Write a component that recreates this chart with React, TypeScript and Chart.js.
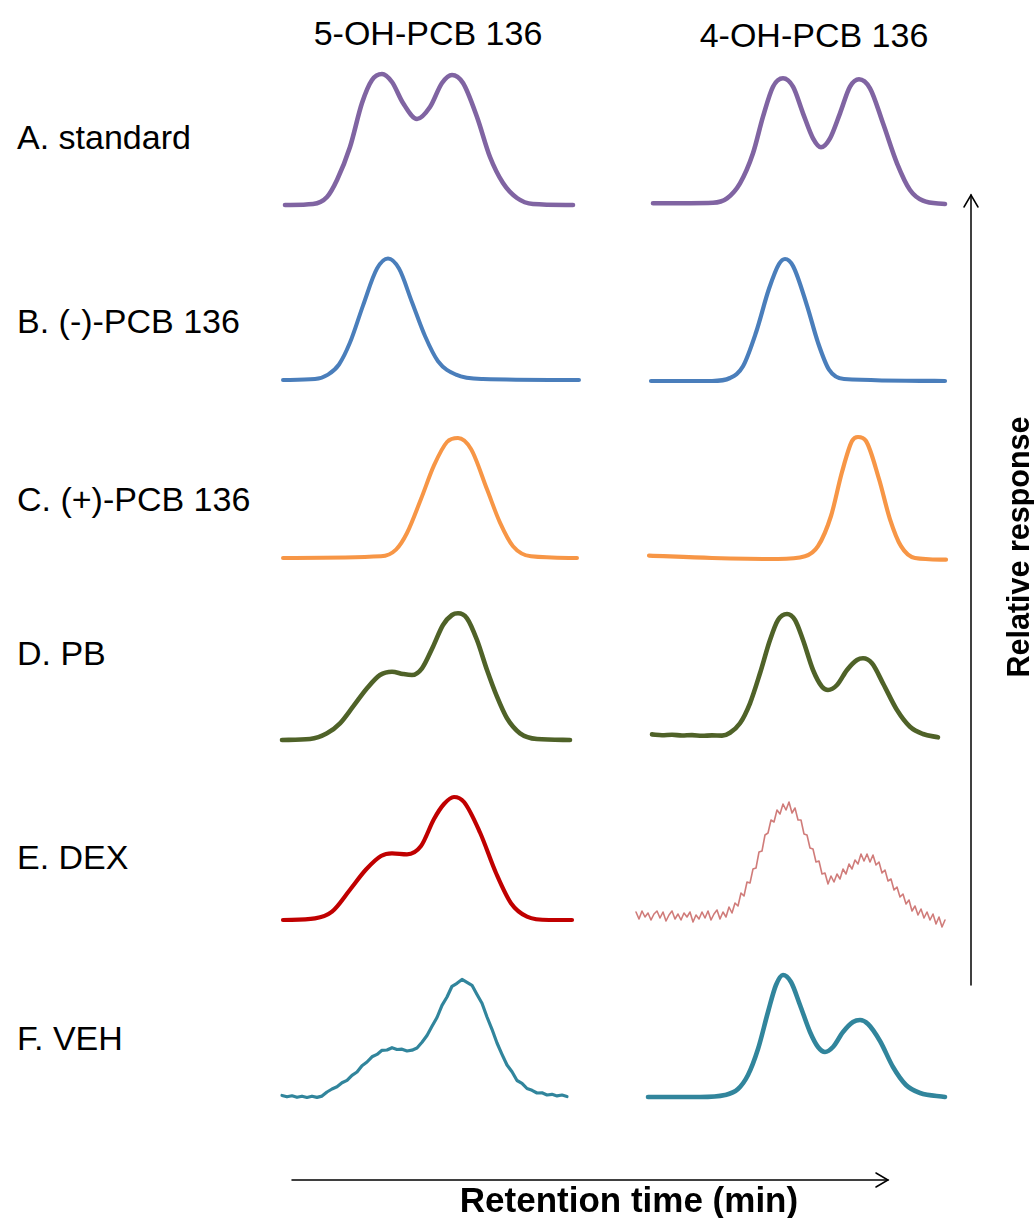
import React, { useEffect, useRef } from "react";
import { Chart, registerables } from "chart.js";

Chart.register(...registerables);

// ---------- text ----------
const columnTitles = ["5-OH-PCB 136", "4-OH-PCB 136"];
const rowLabels = ["A. standard", "B. (-)-PCB 136", "C. (+)-PCB 136", "D. PB", "E. DEX", "F. VEH"];
const xAxisTitle = "Retention time (min)";
const yAxisTitle = "Relative response";

// ---------- data: [retention time (min, relative), response (a.u.)] ----------
const standard5OH = [
  [0.15, 0], [0.43, 1], [0.57, 8], [0.67, 25], [0.8, 58], [0.92, 102], [1.02, 125], [1.12, 131],
  [1.22, 123], [1.33, 102], [1.47, 86], [1.6, 98], [1.72, 122], [1.82, 130], [1.93, 122],
  [2.07, 88], [2.2, 48], [2.33, 22], [2.47, 7], [2.63, 1], [3.03, 0],
];
const standard4OH = [
  [0.23, 1.7], [0.83, 2.3], [0.97, 6.7], [1.1, 21.7], [1.23, 51.7], [1.33, 88.3], [1.43, 118.3],
  [1.53, 126.7], [1.63, 118.3], [1.73, 91.7], [1.83, 66.7], [1.91, 57.7], [2.0, 66.7], [2.1, 91.7],
  [2.2, 118.3], [2.29, 125.7], [2.4, 116.7], [2.53, 81.7], [2.67, 41.7], [2.8, 15], [2.93, 4.3], [3.15, 1],
];
const minus5OH = [
  [0.13, 0], [0.45, 1], [0.58, 5.4], [0.69, 15.5], [0.8, 37.4], [0.93, 74.4], [1.07, 111.4],
  [1.18, 121.5], [1.29, 111.4], [1.42, 77.8], [1.55, 44], [1.68, 18.8], [1.86, 5.4], [2.13, 1], [3.09, 0],
];
const minus4OH = [
  [0.21, -1], [0.82, -1], [1.0, 2], [1.13, 13.8], [1.26, 47.5], [1.39, 91.2], [1.49, 116],
  [1.55, 121], [1.63, 114], [1.77, 74.4], [1.88, 37.4], [1.99, 10.4], [2.14, 1], [3.15, -1],
];
const plus5OH = [
  [0.13, 0], [1.11, 1.7], [1.26, 8.4], [1.37, 25], [1.51, 59], [1.64, 92.6], [1.77, 116],
  [1.88, 120], [2.01, 109], [2.17, 68.7], [2.3, 35.4], [2.43, 11.8], [2.61, 1.7], [3.07, 0],
];
const plus4OH = [
  [0.19, 2.4], [0.82, 0], [1.48, -1], [1.75, 1.7], [1.88, 11.8], [2.01, 42], [2.12, 86],
  [2.22, 117], [2.28, 121], [2.36, 117], [2.49, 79], [2.6, 38.7], [2.71, 11.8], [2.85, 0], [3.16, -1.7],
];
const pb5OH = [
  [0.12, 0], [0.4, 1], [0.57, 6.7], [0.7, 16.7], [0.83, 33.3], [0.97, 51.7], [1.1, 65], [1.22, 68.3],
  [1.33, 66], [1.42, 65], [1.52, 71.7], [1.63, 93.3], [1.73, 115], [1.82, 125], [1.88, 126.7],
  [1.97, 121.7], [2.07, 100], [2.17, 70], [2.27, 43.3], [2.37, 21.7], [2.5, 6.7], [2.67, 1], [3.0, 0],
];
const pb4OH = [
  [0.22, 5.6], [0.32, 4.8], [0.42, 5.3], [0.52, 4.5], [0.62, 4.9], [0.72, 4.2], [0.82, 4.6],
  [0.92, 4.4], [1.0, 7.3], [1.1, 16.7], [1.2, 36.7], [1.3, 66.7], [1.4, 100], [1.48, 120],
  [1.57, 126], [1.65, 120], [1.73, 100], [1.83, 70], [1.92, 53.3], [1.98, 50], [2.07, 55], [2.17, 70],
  [2.27, 80], [2.33, 81.7], [2.42, 76.7], [2.53, 56.7], [2.67, 30], [2.8, 13.3], [2.93, 6], [3.08, 2.7],
];
const dex5OH = [
  [0.13, 0], [0.45, 1.7], [0.62, 8.4], [0.8, 30.3], [0.96, 50.5], [1.11, 64], [1.22, 66.7],
  [1.37, 65.7], [1.51, 74], [1.64, 101], [1.74, 116], [1.84, 123], [1.94, 118], [2.1, 87.5],
  [2.26, 47], [2.41, 16.8], [2.57, 3.4], [2.79, 0], [3.02, 0],
];
const dex4OH = [
  [0.06, 8], [0.09, 1], [0.12, 9], [0.15, 3], [0.18, 7], [0.21, 0], [0.24, 6], [0.27, 9], [0.3, 2],
  [0.33, 8], [0.36, -1], [0.39, 5], [0.42, 9], [0.45, 1], [0.48, 6], [0.51, 0], [0.54, 7], [0.57, 3],
  [0.6, 8], [0.63, -2], [0.66, 5], [0.69, 1], [0.72, 8], [0.75, 2], [0.78, 9], [0.81, 0], [0.84, 6],
  [0.87, 10], [0.9, 1], [0.93, 8], [0.96, 3], [0.99, 13], [1.02, 7], [1.05, 17], [1.08, 14], [1.11, 27],
  [1.14, 24], [1.17, 38], [1.2, 37], [1.23, 51], [1.26, 52], [1.29, 68], [1.32, 69], [1.35, 85],
  [1.38, 87], [1.41, 100], [1.44, 98], [1.47, 110], [1.5, 106], [1.53, 116], [1.56, 110], [1.59, 118],
  [1.62, 107], [1.65, 112], [1.68, 100], [1.71, 100], [1.74, 86], [1.77, 85], [1.8, 72], [1.83, 71],
  [1.86, 58], [1.89, 59], [1.92, 46], [1.95, 47], [1.98, 36], [2.01, 44], [2.04, 38], [2.07, 46],
  [2.1, 41], [2.13, 51], [2.16, 46], [2.19, 56], [2.22, 51], [2.25, 60], [2.28, 56], [2.31, 66],
  [2.34, 59], [2.37, 66], [2.4, 58], [2.43, 65], [2.46, 55], [2.49, 58], [2.52, 47], [2.55, 50],
  [2.58, 39], [2.61, 41], [2.64, 30], [2.67, 33], [2.7, 23], [2.73, 26], [2.76, 16], [2.79, 20],
  [2.82, 9], [2.85, 14], [2.88, 5], [2.91, 11], [2.94, 2], [2.97, 8], [3.0, 0], [3.03, 6], [3.06, -4],
  [3.09, 3], [3.12, -7], [3.15, 0],
];
const veh5OH = [
  [0.12, 1.5], [0.17, 0.2], [0.22, 1.2], [0.27, -0.3], [0.32, 0.8], [0.37, -0.5], [0.42, 0.8],
  [0.47, -0.4], [0.52, 0.9], [0.57, 5], [0.62, 8], [0.67, 10.2], [0.72, 14.2], [0.77, 16.6],
  [0.82, 21.7], [0.87, 25], [0.92, 31.2], [0.97, 35], [1.02, 40.2], [1.07, 42.6], [1.12, 46.7],
  [1.17, 47], [1.22, 49.3], [1.27, 47.5], [1.32, 47.8], [1.37, 46], [1.42, 46.8], [1.47, 49],
  [1.52, 54.7], [1.57, 61.5], [1.62, 70.7], [1.67, 79.5], [1.72, 91.7], [1.77, 100], [1.82, 110.7],
  [1.87, 113.7], [1.92, 117.6], [1.97, 114.6], [2.02, 111.7], [2.07, 102.6], [2.12, 93.7], [2.17, 80],
  [2.22, 67.7], [2.27, 54], [2.32, 42.7], [2.37, 32], [2.42, 25.2], [2.47, 16.5], [2.52, 13.7],
  [2.57, 8.5], [2.62, 6.7], [2.67, 4], [2.72, 4.2], [2.77, 2], [2.82, 2.7], [2.87, 1.1], [2.92, 2],
  [2.97, 0.5],
];
const veh4OH = [
  [0.18, 0], [0.7, 0], [0.95, 2], [1.08, 8], [1.18, 22], [1.28, 48], [1.38, 85], [1.46, 112],
  [1.53, 122], [1.61, 115], [1.7, 92], [1.8, 65], [1.88, 50], [1.95, 45], [2.03, 50], [2.13, 65],
  [2.23, 75], [2.3, 77], [2.38, 73], [2.5, 56], [2.63, 30], [2.76, 12], [2.9, 4], [3.15, 0],
];

// ---------- styling / layout (not data) ----------
const ROW_BASELINE = [205, 380, 558, 740, 920, 1097];
const ROW_LABEL_CENTER = [137, 321, 499, 653, 857, 1038];
const COL_LEFT = [270, 630];
const PANEL_W = 320;
const PANEL_H = 150;
const Y_MIN = -10;
const Y_MAX = 140;
const X_MIN = 0;
const X_MAX = 3.2;
const FONT = '"Liberation Sans", Arial, Helvetica, sans-serif';

type Panel = { data: number[][]; row: number; col: number; color: string; width: number; smooth: boolean };

const panels: Panel[] = [
  { data: standard5OH, row: 0, col: 0, color: "#8064a2", width: 4.6, smooth: true },
  { data: standard4OH, row: 0, col: 1, color: "#8064a2", width: 4.6, smooth: true },
  { data: minus5OH, row: 1, col: 0, color: "#4a7ebb", width: 4, smooth: true },
  { data: minus4OH, row: 1, col: 1, color: "#4a7ebb", width: 4.2, smooth: true },
  { data: plus5OH, row: 2, col: 0, color: "#f79646", width: 4, smooth: true },
  { data: plus4OH, row: 2, col: 1, color: "#f79646", width: 4.2, smooth: true },
  { data: pb5OH, row: 3, col: 0, color: "#4f6228", width: 4.6, smooth: true },
  { data: pb4OH, row: 3, col: 1, color: "#4f6228", width: 4.6, smooth: true },
  { data: dex5OH, row: 4, col: 0, color: "#c00000", width: 4.2, smooth: true },
  { data: dex4OH, row: 4, col: 1, color: "rgba(192,80,77,0.75)", width: 1.6, smooth: false },
  { data: veh5OH, row: 5, col: 0, color: "#31859c", width: 3.2, smooth: false },
  { data: veh4OH, row: 5, col: 1, color: "#31859c", width: 4.6, smooth: true },
];

function PanelChart({ p }: { p: Panel }) {
  const ref = useRef<HTMLCanvasElement | null>(null);
  useEffect(() => {
    if (!ref.current) return;
    const chart = new Chart(ref.current, {
      type: "line",
      data: {
        datasets: [
          {
            data: p.data.map(([x, y]) => ({ x, y })),
            borderColor: p.color,
            borderWidth: p.width,
            pointRadius: 0,
            fill: false,
            cubicInterpolationMode: p.smooth ? "monotone" : "default",
            tension: 0,
            borderJoinStyle: "round",
            borderCapStyle: "round",
          } as any,
        ],
      },
      options: {
        animation: false,
        responsive: false,
        maintainAspectRatio: false,
        events: [],
        layout: { padding: 0 },
        plugins: { legend: { display: false }, tooltip: { enabled: false } },
        scales: {
          x: { type: "linear", min: X_MIN, max: X_MAX, display: false },
          y: { type: "linear", min: Y_MIN, max: Y_MAX, display: false },
        },
      },
    });
    return () => chart.destroy();
  }, [p]);
  return (
    <canvas
      ref={ref}
      width={PANEL_W}
      height={PANEL_H}
      style={{
        position: "absolute",
        left: COL_LEFT[p.col],
        top: ROW_BASELINE[p.row] - (PANEL_H * Y_MAX) / (Y_MAX - Y_MIN),
        width: PANEL_W,
        height: PANEL_H,
      }}
    />
  );
}

export default function App() {
  return (
    <div
      style={{
        position: "absolute",
        left: 0,
        top: 0,
        width: 1034,
        height: 1218,
        overflow: "hidden",
        background: "#fff",
        fontFamily: FONT,
        color: "#000",
      }}
    >
      {columnTitles.map((t, i) => (
        <div
          key={t}
          style={{
            position: "absolute",
            left: i === 0 ? 428 - 150 : 814 - 150,
            width: 300,
            top: i === 0 ? 16 : 18,
            fontSize: 34,
            lineHeight: "34px",
            textAlign: "center",
            whiteSpace: "nowrap",
          }}
        >
          {t}
        </div>
      ))}
      {rowLabels.map((t, i) => (
        <div
          key={t}
          style={{
            position: "absolute",
            left: 17,
            top: ROW_LABEL_CENTER[i] - 17,
            fontSize: 34,
            lineHeight: "34px",
            whiteSpace: "nowrap",
          }}
        >
          {t}
        </div>
      ))}
      {panels.map((p, i) => (
        <PanelChart key={i} p={p} />
      ))}
      <svg
        width={1034}
        height={1218}
        style={{ position: "absolute", left: 0, top: 0, pointerEvents: "none" }}
      >
        <g stroke="#000" strokeWidth={1.5} fill="none" strokeLinecap="round">
          <line x1={971} y1={985} x2={971} y2={195} />
          <polyline points="964,207 971,195 978,207" />
          <line x1={292} y1={1180} x2={888} y2={1180} />
          <polyline points="876,1173 888,1180 876,1187" />
        </g>
      </svg>
      <div
        style={{
          position: "absolute",
          left: 1018 - 200,
          top: 547 - 17,
          width: 400,
          height: 34,
          lineHeight: "34px",
          fontSize: 30.5,
          fontWeight: "bold",
          textAlign: "center",
          transform: "rotate(-90deg)",
          whiteSpace: "nowrap",
        }}
      >
        {yAxisTitle}
      </div>
      <div
        style={{
          position: "absolute",
          left: 629 - 250,
          top: 1182,
          width: 500,
          fontSize: 35,
          lineHeight: "36px",
          fontWeight: "bold",
          textAlign: "center",
          whiteSpace: "nowrap",
        }}
      >
        {xAxisTitle}
      </div>
    </div>
  );
}
